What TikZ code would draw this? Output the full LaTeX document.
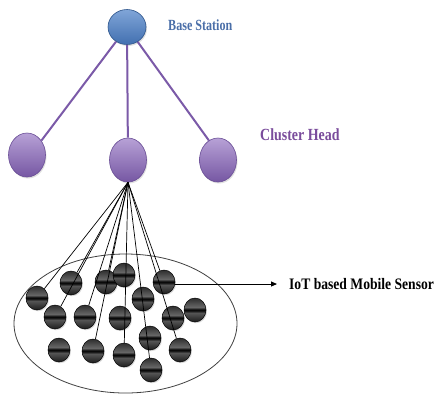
\documentclass[tikz,border=0pt]{standalone}
\usepackage{graphicx}
\usepackage{fontspec}
\setmainfont{Liberation Serif}
\usetikzlibrary{shapes.geometric,arrows.meta,shadows}
\definecolor{bstop}{HTML}{80A5D8}
\definecolor{bsbot}{HTML}{4270B0}
\definecolor{bsedge}{HTML}{2F568C}
\definecolor{chtop}{HTML}{B7A1D6}
\definecolor{chbot}{HTML}{7657A3}
\definecolor{chedge}{HTML}{6A4E96}
\definecolor{linkpurple}{HTML}{7B5AA8}
\definecolor{bstext}{HTML}{4A6EA8}
\definecolor{chtext}{HTML}{7A4C9C}
\definecolor{sa}{HTML}{1C1C1C}
\definecolor{sb}{HTML}{555555}
\definecolor{sc}{HTML}{0A0A0A}
\definecolor{sd}{HTML}{666666}
\definecolor{se}{HTML}{2E2E2E}
\pgfdeclareverticalshading{sensorshade}{100bp}{color(0bp)=(sa); color(25bp)=(sa); color(44bp)=(sb); color(49bp)=(sc); color(51bp)=(sc); color(56bp)=(sd); color(75bp)=(se); color(100bp)=(se)}
\tikzset{
  basenode/.style={ellipse, inner sep=0pt, minimum width=38bp, minimum height=35bp,
    draw=bsedge, line width=0.6bp, top color=bstop, bottom color=bsbot,
    drop shadow={shadow xshift=1bp, shadow yshift=-1.5bp, opacity=0.25}},
  headnode/.style={ellipse, inner sep=0pt, minimum width=37bp, minimum height=44bp,
    draw=chedge, line width=0.6bp, top color=chtop, bottom color=chbot,
    drop shadow={shadow xshift=1bp, shadow yshift=-1.5bp, opacity=0.25}},
  sensornode/.style={ellipse, inner sep=0pt, minimum width=22bp, minimum height=24bp,
    draw=black, line width=0.5bp, shading=sensorshade,
    drop shadow={shadow xshift=1bp, shadow yshift=-1.2bp, opacity=0.3}},
  fieldnode/.style={ellipse, inner sep=0pt, minimum width=223bp, minimum height=139bp,
    draw=black!75, line width=0.8bp},
  purplelink/.style={draw=linkpurple, line width=2bp},
  sensorlink/.style={draw=black, line width=0.7bp},
  lbl/.style={font=\bfseries\fontsize{#1}{#1}\selectfont, inner sep=0pt, anchor=west},
}
\begin{document}
\begin{tikzpicture}[x=1bp,y=-1bp]
\useasboundingbox (0,0) rectangle (437,396);
\fill[white] (0,0) rectangle (437,396);
% field
\node[fieldnode] (field) at (125.5,323.5) {};
% base station and cluster heads
\node[basenode] (bs) at (127,27) {};
\node[headnode] (ch1) at (27,155) {};
\node[headnode] (ch2) at (128,160) {};
\node[headnode] (ch3) at (218,160) {};
\draw[purplelink] (bs) -- (ch1.45);
\draw[purplelink] (bs) -- (ch2);
\draw[purplelink] (bs) -- (ch3.115);
% sensors
\node[sensornode] (s1) at (37,298) {};
\node[sensornode] (s2) at (71,283) {};
\node[sensornode] (s3) at (106,282) {};
\node[sensornode] (s4) at (124,275) {};
\node[sensornode] (s5) at (164,282) {};
\node[sensornode] (s6) at (55,317) {};
\node[sensornode] (s7) at (85,317) {};
\node[sensornode] (s8) at (143,299) {};
\node[sensornode] (s9) at (120,318) {};
\node[sensornode] (s10) at (173,318) {};
\node[sensornode] (s11) at (195,310) {};
\node[sensornode] (s12) at (59,350) {};
\node[sensornode] (s13) at (93,351) {};
\node[sensornode] (s14) at (124,355) {};
\node[sensornode] (s15) at (150,338) {};
\node[sensornode] (s16) at (180,350) {};
\node[sensornode] (s17) at (151,370) {};
% links from cluster head to sensors
\foreach \t in {s1,s2,s6,s7,s3,s13,s14,s17,s5,s16}
  \draw[sensorlink] (ch2.south) -- (\t);
% labels
\node[lbl=15.5bp, text=bstext] (bslabel) at (168,25) {\scalebox{0.78}[1]{Base Station}};
\node[lbl=17bp, text=chtext] (chlabel) at (260,135) {\scalebox{0.82}[1]{Cluster Head}};
\coordinate (arrowend) at (277,284);
\draw[line width=0.9bp, -{Triangle[length=6bp,width=5bp]}] (s5.east |- arrowend) -- (arrowend);
\node[lbl=16bp, text=black] (sensorlabel) at (289,284) {\scalebox{0.85}[1]{IoT based Mobile Sensor}};
\end{tikzpicture}
\end{document}
